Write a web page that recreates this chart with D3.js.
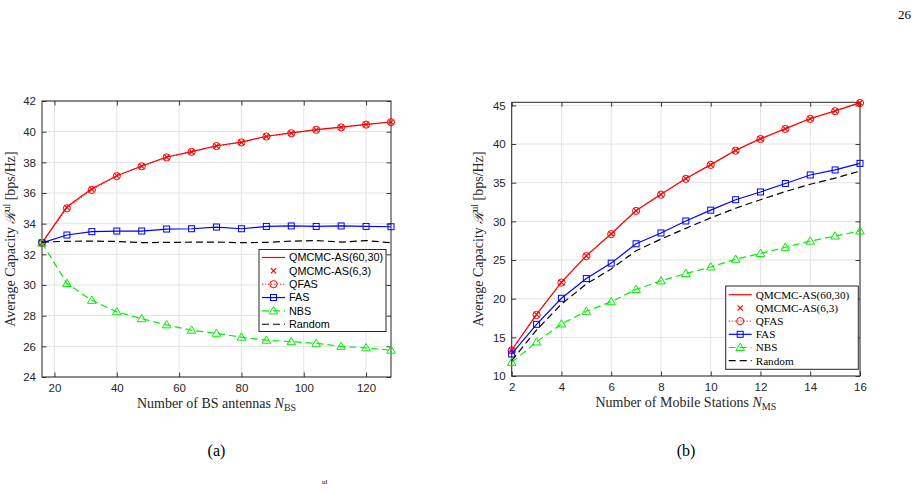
<!DOCTYPE html>
<html>
<head>
<meta charset="utf-8">
<script src="https://cdn.jsdelivr.net/npm/d3@7/dist/d3.min.js"></script>
<style>
  body { margin: 0; background: #fff; }
  svg { display: block; }
  .tick-label { font-family: "Liberation Sans", Arial, sans-serif; font-size: 11.5px; fill: #262626; }
  .axis-title { font-family: "Liberation Serif", "Times New Roman", serif; font-size: 14px; fill: #262626; }
</style>
</head>
<body>
<svg id="chart" width="916" height="491"></svg>
<script>
// panel (a): capacity vs number of BS antennas
var antennas = [16, 24, 32, 40, 48, 56, 64, 72, 80, 88, 96, 104, 112, 120, 128];
var qmcmcA = [32.75, 35.1, 36.28, 37.13, 37.76, 38.35, 38.7, 39.08, 39.32, 39.7, 39.92, 40.13, 40.3, 40.48, 40.63];
var qmcmcSmallA = [32.75, 35.05, 36.25, 37.12, 37.75, 38.33, 38.68, 39.07, 39.3, 39.68, 39.9, 40.12, 40.28, 40.47, 40.62];
var qfasA = [32.75, 35.0, 36.2, 37.1, 37.74, 38.32, 38.68, 39.06, 39.3, 39.68, 39.9, 40.12, 40.28, 40.46, 40.62];
var fasA = [32.75, 33.26, 33.48, 33.52, 33.52, 33.65, 33.67, 33.78, 33.67, 33.82, 33.85, 33.82, 33.85, 33.82, 33.8];
var nbsA = [32.75, 30.1, 29.0, 28.25, 27.8, 27.4, 27.05, 26.85, 26.6, 26.4, 26.3, 26.2, 26.0, 25.9, 25.75];
var randomA = [32.8, 32.85, 32.86, 32.84, 32.76, 32.78, 32.79, 32.8, 32.76, 32.78, 32.86, 32.9, 32.8, 32.9, 32.75];
var xTicksA = [20, 40, 60, 80, 100, 120];
var yTicksA = [24, 26, 28, 30, 32, 34, 36, 38, 40, 42];

// panel (b): capacity vs number of mobile stations
var stations = [2, 3, 4, 5, 6, 7, 8, 9, 10, 11, 12, 13, 14, 15, 16];
var qmcmcB = [13.36, 17.98, 22.14, 25.57, 28.4, 31.4, 33.5, 35.55, 37.34, 39.2, 40.7, 42.0, 43.3, 44.3, 45.35];
var qmcmcSmallB = [13.3, 17.95, 22.1, 25.55, 28.38, 31.38, 33.48, 35.53, 37.32, 39.18, 40.68, 41.98, 43.28, 44.28, 45.33];
var qfasB = [13.3, 17.9, 22.08, 25.5, 28.35, 31.35, 33.45, 35.5, 37.3, 39.15, 40.65, 41.95, 43.25, 44.25, 45.3];
var fasB = [12.85, 16.68, 20.05, 22.6, 24.6, 27.1, 28.5, 30.05, 31.45, 32.8, 33.8, 34.9, 36.0, 36.65, 37.5];
var nbsB = [11.77, 14.4, 16.73, 18.37, 19.6, 21.2, 22.3, 23.25, 24.1, 25.1, 25.85, 26.65, 27.45, 28.1, 28.75];
var randomB = [12.0, 15.95, 19.3, 21.9, 23.85, 26.2, 27.7, 29.1, 30.45, 31.7, 32.8, 33.85, 34.8, 35.6, 36.5];
var xTicksB = [2, 4, 6, 8, 10, 12, 14, 16];
var yTicksB = [10, 15, 20, 25, 30, 35, 40, 45];

var legendNames = ['QMCMC-AS(60,30)', 'QMCMC-AS(6,3)', 'QFAS', 'FAS', 'NBS', 'Random'];

var svg = d3.select('#chart');
var axisColor = '#262626';

function drawMarker(g, kind, x, y, color) {
  if (kind === 'circle') {
    g.append('circle').attr('cx', x).attr('cy', y).attr('r', 3.6)
      .attr('fill', 'none').attr('stroke', color).attr('stroke-width', 1);
  } else if (kind === 'x') {
    var s = 2.6;
    g.append('path')
      .attr('d', 'M' + (x - s) + ',' + (y - s) + 'L' + (x + s) + ',' + (y + s) +
                 'M' + (x - s) + ',' + (y + s) + 'L' + (x + s) + ',' + (y - s))
      .attr('stroke', color).attr('stroke-width', 1.1).attr('fill', 'none');
  } else if (kind === 'square') {
    g.append('rect').attr('x', x - 3).attr('y', y - 3).attr('width', 6).attr('height', 6)
      .attr('fill', 'none').attr('stroke', color).attr('stroke-width', 1);
  } else if (kind === 'triangle') {
    g.append('path')
      .attr('d', 'M' + x + ',' + (y - 4.3) + 'L' + (x + 4.3) + ',' + (y + 3) + 'L' + (x - 4.3) + ',' + (y + 3) + 'Z')
      .attr('fill', 'none').attr('stroke', color).attr('stroke-width', 1);
  }
}

function drawPanel(p) {
  var x = d3.scaleLinear().domain(p.xDomain).range([p.left, p.right]);
  var y = d3.scaleLinear().domain(p.yDomain).range([p.bottom, p.top]);
  var g = svg.append('g');

  // grid
  g.selectAll('.gx').data(p.xTicks).enter().append('line')
    .attr('x1', function (d) { return x(d); }).attr('x2', function (d) { return x(d); })
    .attr('y1', p.top).attr('y2', p.bottom)
    .attr('stroke', '#e3e3e3').attr('stroke-width', 1);
  g.selectAll('.gy').data(p.yTicks).enter().append('line')
    .attr('y1', function (d) { return y(d); }).attr('y2', function (d) { return y(d); })
    .attr('x1', p.left).attr('x2', p.right)
    .attr('stroke', '#e3e3e3').attr('stroke-width', 1);

  // axes with inward ticks on all four sides
  var tl = 4.5;
  g.append('g').attr('transform', 'translate(0,' + p.bottom + ')')
    .call(d3.axisBottom(x).tickValues(p.xTicks).tickSizeInner(-tl).tickSizeOuter(0).tickPadding(7));
  g.append('g').attr('transform', 'translate(0,' + p.top + ')')
    .call(d3.axisTop(x).tickValues(p.xTicks).tickSizeInner(-tl).tickSizeOuter(0).tickFormat(''));
  g.append('g').attr('transform', 'translate(' + p.left + ',0)')
    .call(d3.axisLeft(y).tickValues(p.yTicks).tickSizeInner(-tl).tickSizeOuter(0).tickPadding(6));
  g.append('g').attr('transform', 'translate(' + p.right + ',0)')
    .call(d3.axisRight(y).tickValues(p.yTicks).tickSizeInner(-tl).tickSizeOuter(0).tickFormat(''));
  g.selectAll('.domain').remove();
  g.selectAll('.tick line').attr('stroke', axisColor).attr('stroke-width', 0.9);
  g.selectAll('.tick text').attr('class', 'tick-label').attr('fill', axisColor);
  g.append('rect').attr('x', p.left).attr('y', p.top)
    .attr('width', p.right - p.left).attr('height', p.bottom - p.top)
    .attr('fill', 'none').attr('stroke', axisColor).attr('stroke-width', 1);

  // series
  var line = d3.line()
    .x(function (d) { return x(d[0]); })
    .y(function (d) { return y(d[1]); });

  p.series.forEach(function (s) {
    var pts = p.xs.map(function (v, i) { return [v, s.values[i]]; });
    if (s.dash !== null) {
      g.append('path').datum(pts).attr('d', line)
        .attr('fill', 'none').attr('stroke', s.color).attr('stroke-width', s.width)
        .attr('stroke-dasharray', s.dash);
    }
    if (s.marker) {
      pts.forEach(function (d) { drawMarker(g, s.marker, x(d[0]), y(d[1]), s.color); });
    }
  });

  // axis titles
  var xt = svg.append('text').attr('class', 'axis-title')
    .attr('x', (p.left + p.right) / 2).attr('y', p.bottom + 31)
    .attr('text-anchor', 'middle');
  xt.append('tspan').text(p.xTitle + ' ');
  xt.append('tspan').attr('font-style', 'italic').text('N');
  xt.append('tspan').attr('font-size', '10px').attr('dy', 3).text(p.xSub);

  var yt = svg.append('text').attr('class', 'axis-title')
    .attr('transform', 'translate(' + p.yTitleX + ',' + ((p.top + p.bottom) / 2) + ') rotate(-90)')
    .attr('text-anchor', 'middle');
  yt.append('tspan').text('Average Capacity ');
  yt.append('tspan').attr('font-family', '"DejaVu Serif", serif').attr('font-style', 'italic').text('ℛ');
  yt.append('tspan').attr('font-size', '10px').attr('dy', -5).text('ul');
  yt.append('tspan').attr('dy', 5).text(' [bps/Hz]');

  // legend
  var L = p.legend;
  var lg = svg.append('g');
  lg.append('rect').attr('x', L.x).attr('y', L.y).attr('width', L.w).attr('height', L.h)
    .attr('fill', '#fff').attr('stroke', axisColor).attr('stroke-width', 1);
  p.series.forEach(function (s, i) {
    var cy = L.y + L.first + i * L.step;
    if (s.dash !== null) {
      lg.append('line').attr('x1', L.x + 3).attr('x2', L.x + 26).attr('y1', cy).attr('y2', cy)
        .attr('stroke', s.color).attr('stroke-width', s.width).attr('stroke-dasharray', s.dash);
    }
    if (s.marker) drawMarker(lg, s.marker, L.x + 14.5, cy, s.color);
    lg.append('text').attr('x', L.x + 30).attr('y', cy + 3.8)
      .attr('font-family', L.font).attr('font-size', L.size).attr('fill', '#000')
      .text(legendNames[i]);
  });
}

function makeSeries(a, b, c, f, n, r) {
  return [
    { values: a, color: '#ff0000', width: 1.2, dash: '', marker: null },
    { values: b, color: '#ff0000', width: 1, dash: null, marker: 'x' },
    { values: c, color: '#ff0000', width: 1, dash: '1.2,1.8', marker: 'circle' },
    { values: f, color: '#0000ff', width: 1.2, dash: '', marker: 'square' },
    { values: n, color: '#00ee00', width: 1.2, dash: '7,4', marker: 'triangle' },
    { values: r, color: '#000000', width: 1.2, dash: '7,4', marker: null }
  ];
}

drawPanel({
  left: 42, right: 391, top: 101, bottom: 377,
  xDomain: [16, 128], yDomain: [24, 42],
  xTicks: xTicksA, yTicks: yTicksA, xs: antennas,
  series: makeSeries(qmcmcA, qmcmcSmallA, qfasA, fasA, nbsA, randomA),
  xTitle: 'Number of BS antennas', xSub: 'BS', yTitleX: 15,
  legend: { x: 259, y: 249.5, w: 127, h: 82, first: 8, step: 13.35,
            font: '"Liberation Sans", Arial, sans-serif', size: '10.8px' }
});

drawPanel({
  left: 511.7, right: 860, top: 102.3, bottom: 376,
  xDomain: [2, 16], yDomain: [10, 45.4],
  xTicks: xTicksB, yTicks: yTicksB, xs: stations,
  series: makeSeries(qmcmcB, qmcmcSmallB, qfasB, fasB, nbsB, randomB),
  xTitle: 'Number of Mobile Stations', xSub: 'MS', yTitleX: 483,
  legend: { x: 725.7, y: 286, w: 132.6, h: 83.3, first: 8.7, step: 13.2,
            font: '"Liberation Serif", "Times New Roman", serif', size: '11.2px' }
});

// page decorations
svg.append('text').attr('x', 911).attr('y', 19).attr('text-anchor', 'end')
  .attr('font-family', '"Liberation Serif", serif').attr('font-size', '13px').text('26');
svg.append('text').attr('x', 216.5).attr('y', 456).attr('text-anchor', 'middle')
  .attr('font-family', '"Liberation Serif", serif').attr('font-size', '16px').text('(a)');
svg.append('text').attr('x', 686).attr('y', 456).attr('text-anchor', 'middle')
  .attr('font-family', '"Liberation Serif", serif').attr('font-size', '16px').text('(b)');
svg.append('text').attr('x', 322).attr('y', 484)
  .attr('font-family', '"Liberation Serif", serif').attr('font-size', '7px').text('ul');
</script>
</body>
</html>
